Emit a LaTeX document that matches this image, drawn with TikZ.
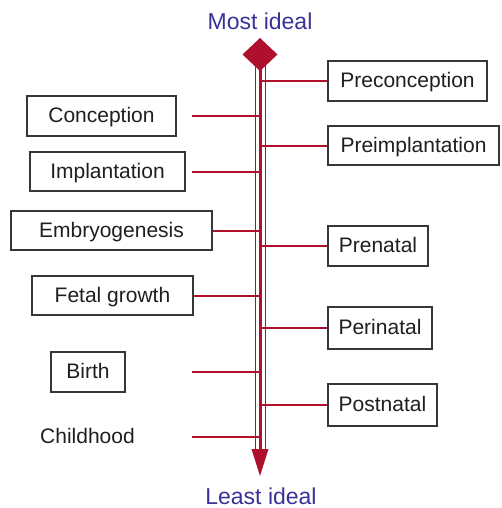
\documentclass[tikz,border=0pt]{standalone}
\usepackage{fontspec}
\setmainfont{Liberation Sans}
\definecolor{spine}{RGB}{175,16,46}
\definecolor{ttl}{RGB}{58,50,150}
\definecolor{boxline}{RGB}{55,55,55}
\begin{document}
\begin{tikzpicture}[x=1pt,y=-1pt,
 lbl/.style={draw=boxline,line width=1.3pt,fill=white,inner sep=0pt,text=black!88,font=\fontsize{21}{24}\selectfont,text height=15pt,text depth=1.5pt},
 plainlbl/.style={inner sep=0pt,text=black!88,font=\fontsize{21}{24}\selectfont,text height=15pt,text depth=1.5pt},
 ttlstyle/.style={inner sep=0pt,text=ttl,font=\fontsize{23}{26}\selectfont,text height=16.5pt,text depth=0pt},
 conn/.style={draw=spine,line width=2pt},
 thinline/.style={draw=spine,line width=1pt},
 thickline/.style={draw=spine,line width=3pt},
]
\useasboundingbox (0,0) rectangle (501,508);
% titles
\node[ttlstyle] (most) at (260,21) {Most ideal};
\node[ttlstyle] (least) at (261,496) {Least ideal};
% spine coordinates
\coordinate (sx) at (260,0);
\coordinate (stop) at (260,62);
\coordinate (sbot) at (260,450);
\coordinate (ltop) at (255,62);
\coordinate (lbot) at (255,450);
\coordinate (rtop) at (265,62);
\coordinate (rbot) at (265,450);
\draw[thinline] (ltop) -- (lbot);
\draw[thinline] (rtop) -- (rbot);
\draw[thickline] (stop) -- (sbot);
% diamond and arrowhead
\fill[spine] (260,38) -- (277.5,54.5) -- (260,71) -- (242.5,54.5) -- cycle;
\fill[spine] (251.5,449) -- (268.5,449) -- (260,476) -- cycle;
% left boxes
\node[lbl,minimum width=149pt,minimum height=40pt] (conc) at (101.5,116) {Conception};
\node[lbl,minimum width=155pt,minimum height=39pt] (impl) at (107.5,171.5) {Implantation};
\node[lbl,minimum width=201pt,minimum height=39pt] (embr) at (111.5,230.5) {Embryogenesis};
\node[lbl,minimum width=161pt,minimum height=39pt] (fetal) at (112.5,295.5) {Fetal growth};
\node[lbl,minimum width=74pt,minimum height=40pt] (birth) at (88,372) {Birth};
\node[plainlbl] (child) at (87.5,437) {Childhood};
% left connector starts
\coordinate (cconc) at (192,116);
\coordinate (cimpl) at (192,171.5);
\coordinate (cbirth) at (192,372);
\coordinate (cchild) at (192,437);
\draw[conn] (cconc) -- (cconc -| sx);
\draw[conn] (cimpl) -- (cimpl -| sx);
\draw[conn] (embr.east) -- (embr.east -| sx);
\draw[conn] (fetal.east) -- (fetal.east -| sx);
\draw[conn] (cbirth) -- (cbirth -| sx);
\draw[conn] (cchild) -- (cchild -| sx);
% right boxes
\node[lbl,minimum width=159pt,minimum height=40pt] (precon) at (407.5,81) {Preconception};
\node[lbl,minimum width=171pt,minimum height=39pt] (preimp) at (413.5,145.5) {Preimplantation};
\node[lbl,minimum width=100pt,minimum height=40pt] (prenat) at (378,246) {Prenatal};
\node[lbl,minimum width=104pt,minimum height=42pt] (perinat) at (380,328) {Perinatal};
\node[lbl,minimum width=109pt,minimum height=42pt] (postnat) at (382.5,405) {Postnatal};
\draw[conn] (precon.west -| sx) -- (precon.west);
\draw[conn] (preimp.west -| sx) -- (preimp.west);
\draw[conn] (prenat.west -| sx) -- (prenat.west);
\draw[conn] (perinat.west -| sx) -- (perinat.west);
\draw[conn] (postnat.west -| sx) -- (postnat.west);
\end{tikzpicture}
\end{document}
